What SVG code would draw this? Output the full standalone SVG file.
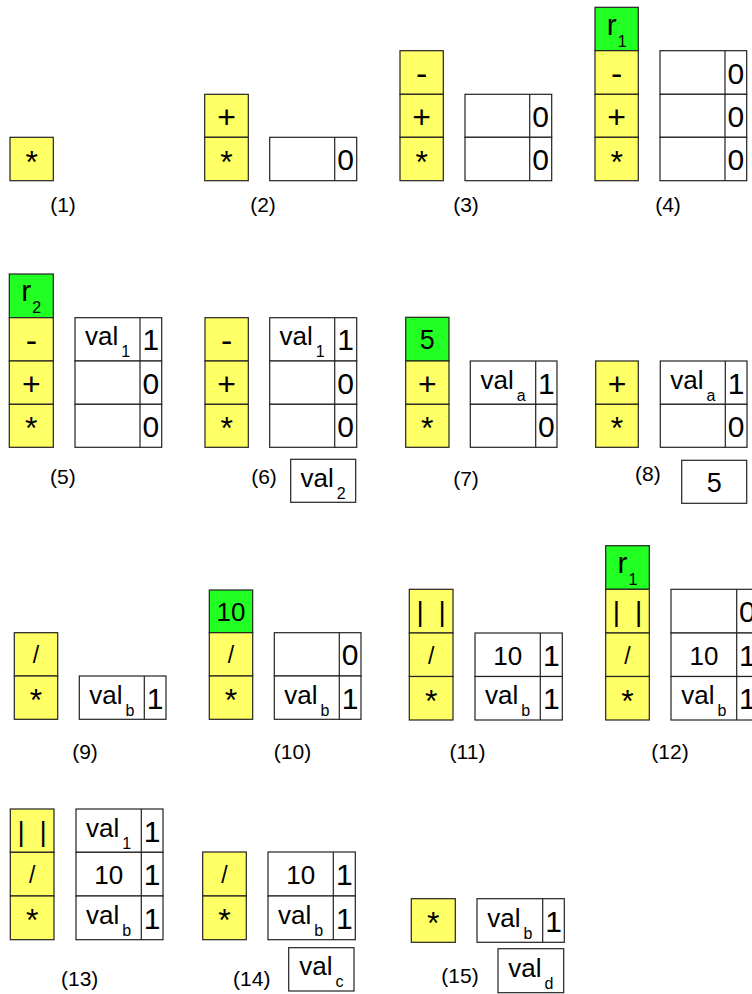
<svg xmlns="http://www.w3.org/2000/svg" width="752" height="994" viewBox="0 0 752 994">
<style>
.op{fill:#ffff66;stroke:#222;stroke-width:1.2}
.gr{fill:#22ff22;stroke:#222;stroke-width:1.2}
.cl{fill:#fff;stroke:#222;stroke-width:1.2}
.dv{stroke:#222;stroke-width:1.2}
text{font-family:"Liberation Sans",Arial,Helvetica,sans-serif;text-anchor:middle;fill:#000}
.ast{font-size:32px}
.pl{font-size:32px}
.mi{font-size:34px}
.sl{font-size:23px}
.bar{font-size:28px;word-spacing:7px}
.dg{font-size:30px}
.tn{font-size:26px}
.vl{font-size:26px}
.rr{font-size:30px}
.five{font-size:27px}
.sub{font-size:16px}
.lbl{font-size:21px}
</style>
<rect width="752" height="994" fill="#fff"/>

<g id="step1">
 <rect class="op" x="10" y="137.3" width="43.3" height="43.4"/>
 <text class="ast" x="31.7" y="172.5">*</text>
 <text class="lbl" x="63" y="212">(1)</text>
</g>

<g id="step2">
 <rect class="op" x="204.7" y="94.3" width="43.6" height="43"/>
 <text class="pl" x="226.5" y="127.8">+</text>
 <rect class="op" x="204.7" y="137.3" width="43.6" height="43.4"/>
 <text class="ast" x="226.5" y="172.5">*</text>
 <rect class="cl" x="269.7" y="137.3" width="87" height="43.4"/>
 <line class="dv" x1="334.7" y1="137.3" x2="334.7" y2="180.7"/>
 <text class="dg" x="345.7" y="170">0</text>
 <text class="lbl" x="263" y="212">(2)</text>
</g>

<g id="step3">
 <rect class="op" x="400" y="50.7" width="43.3" height="43.6"/>
 <text class="mi" x="421.7" y="84.9">-</text>
 <rect class="op" x="400" y="94.3" width="43.3" height="43"/>
 <text class="pl" x="421.7" y="127.8">+</text>
 <rect class="op" x="400" y="137.3" width="43.3" height="43.4"/>
 <text class="ast" x="421.7" y="172.5">*</text>
 <rect class="cl" x="465" y="94.3" width="86.7" height="43"/>
 <rect class="cl" x="465" y="137.3" width="86.7" height="43.4"/>
 <line class="dv" x1="529.7" y1="94.3" x2="529.7" y2="180.7"/>
 <text class="dg" x="540.7" y="126.8">0</text>
 <text class="dg" x="540.7" y="170">0</text>
 <text class="lbl" x="466" y="212">(3)</text>
</g>

<g id="step4">
 <rect class="gr" x="595" y="7.3" width="43.3" height="43.4"/>
 <text class="rr" x="616.7" y="34.5">r<tspan class="sub" dx="1" dy="12">1</tspan></text>
 <rect class="op" x="595" y="50.7" width="43.3" height="43.6"/>
 <text class="mi" x="616.7" y="84.9">-</text>
 <rect class="op" x="595" y="94.3" width="43.3" height="43"/>
 <text class="pl" x="616.7" y="127.8">+</text>
 <rect class="op" x="595" y="137.3" width="43.3" height="43.4"/>
 <text class="ast" x="616.7" y="172.5">*</text>
 <rect class="cl" x="660" y="50.7" width="86.7" height="43.6"/>
 <rect class="cl" x="660" y="94.3" width="86.7" height="43"/>
 <rect class="cl" x="660" y="137.3" width="86.7" height="43.4"/>
 <line class="dv" x1="725" y1="50.7" x2="725" y2="180.7"/>
 <text class="dg" x="735.9" y="83.5">0</text>
 <text class="dg" x="735.9" y="126.8">0</text>
 <text class="dg" x="735.9" y="170">0</text>
 <text class="lbl" x="668" y="212">(4)</text>
</g>

<g id="step5">
 <rect class="gr" x="9.3" y="274" width="44" height="43.7"/>
 <text class="rr" x="31.3" y="301.4">r<tspan class="sub" dx="1" dy="12">2</tspan></text>
 <rect class="op" x="9.3" y="317.7" width="44" height="43.3"/>
 <text class="mi" x="31.3" y="351.8">-</text>
 <rect class="op" x="9.3" y="361" width="44" height="43.3"/>
 <text class="pl" x="31.3" y="394.7">+</text>
 <rect class="op" x="9.3" y="404.3" width="44" height="43"/>
 <text class="ast" x="31.3" y="439.3">*</text>
 <rect class="cl" x="75" y="317.7" width="86.7" height="43.3"/>
 <rect class="cl" x="75" y="361" width="86.7" height="43.3"/>
 <rect class="cl" x="75" y="404.3" width="86.7" height="43"/>
 <line class="dv" x1="140" y1="317.7" x2="140" y2="447.3"/>
 <text class="vl" x="107.5" y="345.4">val<tspan class="sub" dx="3" dy="12">1</tspan></text>
 <text class="dg" x="150.8" y="350.4">1</text>
 <text class="dg" x="150.8" y="393.7">0</text>
 <text class="dg" x="150.8" y="436.8">0</text>
 <text class="lbl" x="62.8" y="484">(5)</text>
</g>

<g id="step6">
 <rect class="op" x="205" y="317.7" width="43.3" height="43.3"/>
 <text class="mi" x="226.7" y="351.8">-</text>
 <rect class="op" x="205" y="361" width="43.3" height="43.3"/>
 <text class="pl" x="226.7" y="394.7">+</text>
 <rect class="op" x="205" y="404.3" width="43.3" height="43"/>
 <text class="ast" x="226.7" y="439.3">*</text>
 <rect class="cl" x="269.7" y="317.7" width="87" height="43.3"/>
 <rect class="cl" x="269.7" y="361" width="87" height="43.3"/>
 <rect class="cl" x="269.7" y="404.3" width="87" height="43"/>
 <line class="dv" x1="334.7" y1="317.7" x2="334.7" y2="447.3"/>
 <text class="vl" x="302.2" y="345.4">val<tspan class="sub" dx="3" dy="12">1</tspan></text>
 <text class="dg" x="345.7" y="350.4">1</text>
 <text class="dg" x="345.7" y="393.7">0</text>
 <text class="dg" x="345.7" y="436.8">0</text>
 <rect class="cl" x="290.7" y="459.3" width="65" height="43"/>
 <text class="vl" x="323.2" y="486.8">val<tspan class="sub" dx="3" dy="12">2</tspan></text>
 <text class="lbl" x="264" y="483.5">(6)</text>
</g>

<g id="step7">
 <rect class="gr" x="405.7" y="317.3" width="43.3" height="43.7"/>
 <text class="five" x="427.3" y="349.2">5</text>
 <rect class="op" x="405.7" y="361" width="43.3" height="43.3"/>
 <text class="pl" x="427.3" y="394.7">+</text>
 <rect class="op" x="405.7" y="404.3" width="43.3" height="43"/>
 <text class="ast" x="427.3" y="439.3">*</text>
 <rect class="cl" x="470.3" y="361" width="86.7" height="43.3"/>
 <rect class="cl" x="470.3" y="404.3" width="86.7" height="43"/>
 <line class="dv" x1="535.7" y1="361" x2="535.7" y2="447.3"/>
 <text class="vl" x="503" y="388.7">val<tspan class="sub" dx="3" dy="12">a</tspan></text>
 <text class="dg" x="546.4" y="393.7">1</text>
 <text class="dg" x="546.4" y="436.8">0</text>
 <text class="lbl" x="466" y="486">(7)</text>
</g>

<g id="step8">
 <rect class="op" x="595.7" y="361" width="42.6" height="43.3"/>
 <text class="pl" x="617" y="394.7">+</text>
 <rect class="op" x="595.7" y="404.3" width="42.6" height="43"/>
 <text class="ast" x="617" y="439.3">*</text>
 <rect class="cl" x="660.3" y="361" width="86.7" height="43.3"/>
 <rect class="cl" x="660.3" y="404.3" width="86.7" height="43"/>
 <line class="dv" x1="725.3" y1="361" x2="725.3" y2="447.3"/>
 <text class="vl" x="692.8" y="388.7">val<tspan class="sub" dx="3" dy="12">a</tspan></text>
 <text class="dg" x="736.2" y="393.7">1</text>
 <text class="dg" x="736.2" y="436.8">0</text>
 <rect class="cl" x="681.7" y="460.3" width="65" height="43"/>
 <text class="five" x="714.2" y="491.7">5</text>
 <text class="lbl" x="647.8" y="481">(8)</text>
</g>

<g id="step9">
 <rect class="op" x="14.3" y="632.7" width="43.4" height="43.3"/>
 <text class="sl" x="36" y="663.4">/</text>
 <rect class="op" x="14.3" y="676" width="43.4" height="43.3"/>
 <text class="ast" x="36" y="711.2">*</text>
 <rect class="cl" x="79.3" y="676" width="86.7" height="43.3"/>
 <line class="dv" x1="144.3" y1="676" x2="144.3" y2="719.3"/>
 <text class="vl" x="111.8" y="703.7">val<tspan class="sub" dx="3" dy="12">b</tspan></text>
 <text class="dg" x="155.2" y="708.7">1</text>
 <text class="lbl" x="85" y="759">(9)</text>
</g>

<g id="step10">
 <rect class="gr" x="209.3" y="590" width="43.4" height="42.7"/>
 <text class="tn" x="231" y="621.3">10</text>
 <rect class="op" x="209.3" y="632.7" width="43.4" height="43.3"/>
 <text class="sl" x="231" y="663.4">/</text>
 <rect class="op" x="209.3" y="676" width="43.4" height="43.3"/>
 <text class="ast" x="231" y="711.2">*</text>
 <rect class="cl" x="274.3" y="632.7" width="86.7" height="43.3"/>
 <rect class="cl" x="274.3" y="676" width="86.7" height="43.3"/>
 <line class="dv" x1="339.3" y1="632.7" x2="339.3" y2="719.3"/>
 <text class="dg" x="350.2" y="665.4">0</text>
 <text class="vl" x="306.8" y="703.7">val<tspan class="sub" dx="3" dy="12">b</tspan></text>
 <text class="dg" x="350.2" y="708.7">1</text>
 <text class="lbl" x="292.5" y="759">(10)</text>
</g>

<g id="step11">
 <rect class="op" x="409.3" y="589.3" width="43.7" height="43.7"/>
 <text class="bar" x="431.2" y="621.2">| |</text>
 <rect class="op" x="409.3" y="633" width="43.7" height="43.5"/>
 <text class="sl" x="431.2" y="663.8">/</text>
 <rect class="op" x="409.3" y="676.5" width="43.7" height="43.5"/>
 <text class="ast" x="431.2" y="711.8">*</text>
 <rect class="cl" x="475" y="633" width="87.3" height="43.5"/>
 <rect class="cl" x="475" y="676.5" width="87.3" height="43.5"/>
 <line class="dv" x1="540.3" y1="633" x2="540.3" y2="720"/>
 <text class="tn" x="507.7" y="664.8">10</text>
 <text class="dg" x="551.3" y="665.8">1</text>
 <text class="vl" x="507.7" y="704.3">val<tspan class="sub" dx="3" dy="12">b</tspan></text>
 <text class="dg" x="551.3" y="709.3">1</text>
 <text class="lbl" x="467.5" y="759">(11)</text>
</g>

<g id="step12">
 <rect class="gr" x="605.7" y="545.7" width="43.6" height="43.6"/>
 <text class="rr" x="627.5" y="573">r<tspan class="sub" dx="1" dy="12">1</tspan></text>
 <rect class="op" x="605.7" y="589.3" width="43.6" height="43.7"/>
 <text class="bar" x="627.5" y="621.2">| |</text>
 <rect class="op" x="605.7" y="633" width="43.6" height="43.5"/>
 <text class="sl" x="627.5" y="663.8">/</text>
 <rect class="op" x="605.7" y="676.5" width="43.6" height="43.5"/>
 <text class="ast" x="627.5" y="711.8">*</text>
 <rect class="cl" x="671" y="589.3" width="87" height="43.7"/>
 <rect class="cl" x="671" y="633" width="87" height="43.5"/>
 <rect class="cl" x="671" y="676.5" width="87" height="43.5"/>
 <line class="dv" x1="736.7" y1="589.3" x2="736.7" y2="720"/>
 <text class="dg" x="747.4" y="622.2">0</text>
 <text class="tn" x="703.9" y="664.8">10</text>
 <text class="dg" x="747.4" y="665.8">1</text>
 <text class="vl" x="703.9" y="704.3">val<tspan class="sub" dx="3" dy="12">b</tspan></text>
 <text class="dg" x="747.4" y="709.3">1</text>
 <text class="lbl" x="670" y="759">(12)</text>
</g>

<g id="step13">
 <rect class="op" x="10.3" y="809" width="43.7" height="43.3"/>
 <text class="bar" x="32.2" y="840.7">| |</text>
 <rect class="op" x="10.3" y="852.3" width="43.7" height="43.7"/>
 <text class="sl" x="32.2" y="883.2">/</text>
 <rect class="op" x="10.3" y="896" width="43.7" height="43.7"/>
 <text class="ast" x="32.2" y="931.4">*</text>
 <rect class="cl" x="76" y="809" width="87" height="43.3"/>
 <rect class="cl" x="76" y="852.3" width="87" height="43.7"/>
 <rect class="cl" x="76" y="896" width="87" height="43.7"/>
 <line class="dv" x1="141.3" y1="809" x2="141.3" y2="939.7"/>
 <text class="vl" x="108.7" y="836.7">val<tspan class="sub" dx="3" dy="12">1</tspan></text>
 <text class="dg" x="152.2" y="841.7">1</text>
 <text class="tn" x="108.7" y="884.2">10</text>
 <text class="dg" x="152.2" y="885.2">1</text>
 <text class="vl" x="108.7" y="923.9">val<tspan class="sub" dx="3" dy="12">b</tspan></text>
 <text class="dg" x="152.2" y="928.9">1</text>
 <text class="lbl" x="79.7" y="986">(13)</text>
</g>

<g id="step14">
 <rect class="op" x="202.7" y="852" width="43.6" height="44"/>
 <text class="sl" x="224.5" y="883">/</text>
 <rect class="op" x="202.7" y="896" width="43.6" height="43.7"/>
 <text class="ast" x="224.5" y="931.4">*</text>
 <rect class="cl" x="268" y="852" width="87.3" height="44"/>
 <rect class="cl" x="268" y="896" width="87.3" height="43.7"/>
 <line class="dv" x1="333.3" y1="852" x2="333.3" y2="939.7"/>
 <text class="tn" x="300.7" y="884">10</text>
 <text class="dg" x="344.3" y="885">1</text>
 <text class="vl" x="300.7" y="923.9">val<tspan class="sub" dx="3" dy="12">b</tspan></text>
 <text class="dg" x="344.3" y="928.9">1</text>
 <rect class="cl" x="288.7" y="947.7" width="65.3" height="43.3"/>
 <text class="vl" x="321.3" y="975.3">val<tspan class="sub" dx="3" dy="12">c</tspan></text>
 <text class="lbl" x="251.8" y="986">(14)</text>
</g>

<g id="step15">
 <rect class="op" x="411.3" y="898.7" width="44" height="43.6"/>
 <text class="ast" x="433.3" y="934">*</text>
 <rect class="cl" x="477" y="898.7" width="87.3" height="43.6"/>
 <line class="dv" x1="542.7" y1="898.7" x2="542.7" y2="942.3"/>
 <text class="vl" x="509.9" y="926.5">val<tspan class="sub" dx="3" dy="12">b</tspan></text>
 <text class="dg" x="553.5" y="931.5">1</text>
 <rect class="cl" x="498" y="948.7" width="65.7" height="44"/>
 <text class="vl" x="530.8" y="976.7">val<tspan class="sub" dx="3" dy="12">d</tspan></text>
 <text class="lbl" x="460" y="983">(15)</text>
</g>
</svg>
